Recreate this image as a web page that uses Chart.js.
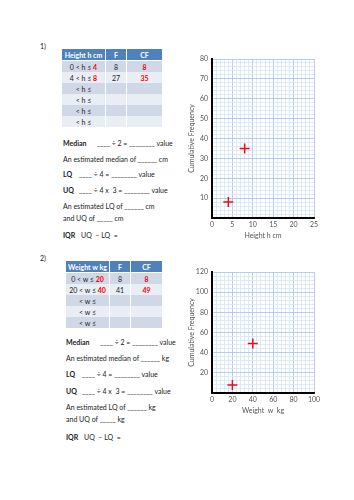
<!DOCTYPE html>
<html><head><meta charset="utf-8">
<script src="https://cdn.jsdelivr.net/npm/chart.js@4.4.0/dist/chart.umd.min.js"></script>
<style>
html,body{margin:0;padding:0;background:#fff;width:354px;height:500px;overflow:hidden;font-family:Lato,"Open Sans",sans-serif;color:#222;}
.t{position:absolute;font-size:7px;line-height:10px;white-space:nowrap;}
.b{font-weight:bold;}
table{position:absolute;border-collapse:collapse;font-size:7px;table-layout:fixed;}
td,th{padding:0;text-align:center;border-left:1px solid #fff;border-right:1px solid #fff;height:11px;line-height:10px;}
th{background:#4F81BD;color:#fff;font-weight:bold;border-bottom:1px solid #fff;}
tr.o td{background:#D0D8E8;}
tr.e td{background:#E9EDF4;}
.r{color:#f00;font-weight:bold;}
canvas{position:absolute;}
</style></head><body>
<div class="t" style="left:40px;top:41px;">1)</div>
<table id="t1" style="left:61px;top:49px;width:101px;">
<colgroup><col style="width:44px"><col style="width:21px"><col style="width:36px"></colgroup>
<tr><th>Height h cm</th><th>F</th><th>CF</th></tr>
</table>
<canvas id="c1" width="150" height="200" style="left:180px;top:50px;width:150px;height:200px;"></canvas>

<div class="t b" style="left:63px;top:138px;">Median</div>
<div class="t" style="left:97px;top:138px;">____ ÷ 2 = ________ value</div>
<div class="t" style="left:63px;top:154px;">An estimated median of ______ cm</div>
<div class="t b" style="left:63px;top:169px;">LQ</div>
<div class="t" style="left:79px;top:169px;">____ ÷ 4 = ________ value</div>
<div class="t b" style="left:63px;top:185px;">UQ</div>
<div class="t" style="left:79px;top:185px;">____ ÷ 4 x&nbsp; 3 = ________ value</div>
<div class="t" style="left:63px;top:201px;">An estimated LQ of ______ cm</div>
<div class="t" style="left:63px;top:213px;">and UQ of _____ cm</div>
<div class="t b" style="left:63px;top:230px;">IQR</div>
<div class="t" style="left:81px;top:230px;">UQ &nbsp;– LQ &nbsp;=</div>

<div class="t" style="left:40px;top:253px;">2)</div>
<table id="t2" style="left:65px;top:261px;width:97px;">
<colgroup><col style="width:44px"><col style="width:21px"><col style="width:32px"></colgroup>
<tr><th>Weight w kg</th><th>F</th><th>CF</th></tr>
</table>
<canvas id="c2" width="150" height="163" style="left:180px;top:262px;width:150px;height:163px;"></canvas>

<div class="t b" style="left:66px;top:337px;">Median</div>
<div class="t" style="left:100px;top:337px;">____ ÷ 2 = ________ value</div>
<div class="t" style="left:66px;top:353px;">An estimated median of ______ kg</div>
<div class="t b" style="left:66px;top:369px;">LQ</div>
<div class="t" style="left:82px;top:369px;">____ ÷ 4 = ________ value</div>
<div class="t b" style="left:66px;top:386px;">UQ</div>
<div class="t" style="left:82px;top:386px;">____ ÷ 4 x&nbsp; 3 = ________ value</div>
<div class="t" style="left:66px;top:402px;">An estimated LQ of ______ kg</div>
<div class="t" style="left:66px;top:414px;">and UQ of _____ kg</div>
<div class="t b" style="left:66px;top:432px;">IQR</div>
<div class="t" style="left:84px;top:432px;">UQ &nbsp;– LQ &nbsp;=</div>

<script>
// ---- Data ----
const heightLower = [0, 4];
const heightUpper = [4, 8];
const heightF = [8, 27];
const heightCF = [8, 35];
const heightEmptyRows = 4;

const weightLower = [0, 20];
const weightUpper = [20, 40];
const weightF = [8, 41];
const weightCF = [8, 49];
const weightEmptyRows = 3;

const heightXTicks = [0, 5, 10, 15, 20, 25];
const heightYTicks = [10, 20, 30, 40, 50, 60, 70, 80];
const weightXTicks = [0, 20, 40, 60, 80, 100];
const weightYTicks = [20, 40, 60, 80, 100, 120];

// ---- Tables ----
function fillTable(id, lo, up, f, cf, empty, v) {
  const t = document.getElementById(id);
  let k = 0;
  for (let i = 0; i < lo.length; i++, k++) {
    const tr = document.createElement('tr');
    tr.className = k % 2 ? 'e' : 'o';
    tr.innerHTML = '<td>' + lo[i] + ' &lt; ' + v + ' ≤ <span class="r">' + up[i] + '</span></td><td>' + f[i] + '</td><td><span class="r">' + cf[i] + '</span></td>';
    t.appendChild(tr);
  }
  for (let i = 0; i < empty; i++, k++) {
    const tr = document.createElement('tr');
    tr.className = k % 2 ? 'e' : 'o';
    tr.innerHTML = '<td>&lt; ' + v + ' ≤</td><td></td><td></td>';
    t.appendChild(tr);
  }
}
fillTable('t1', heightLower, heightUpper, heightF, heightCF, heightEmptyRows, 'h');
fillTable('t2', weightLower, weightUpper, weightF, weightCF, weightEmptyRows, 'w');

// ---- Charts ----
const FONT = 'Lato, "Open Sans", sans-serif';
const MAJ = '#A6C2EA', MIN = '#D6E4F6';
function makeChart(id, xs, ys, xTicks, yTicks, xStep, yStep, xTitle, padTop) {
  const xMajor = xTicks[1] - xTicks[0], yMajor = yTicks[1] - yTicks[0];
  new Chart(document.getElementById(id), {
    type: 'scatter',
    data: { datasets: [{ data: xs.map((x, i) => ({ x: x, y: ys[i] })),
      pointStyle: 'cross', radius: 5, borderWidth: 1.5, borderColor: '#E3101B', backgroundColor: '#E3101B' }] },
    options: {
      responsive: false, animation: false, events: [],
      layout: { padding: { top: padTop, right: 16, left: 0, bottom: 0 } },
      plugins: { legend: { display: false }, tooltip: { enabled: false } },
      scales: {
        x: {
          type: 'linear', min: xTicks[0], max: xTicks[xTicks.length - 1],
          afterFit: s => { s.height = 32; },
          border: { color: '#000', width: 2 },
          grid: { drawTicks: false, color: c => (c.tick.value % xMajor === 0 ? MAJ : MIN), lineWidth: 0.8 },
          ticks: { stepSize: xStep, autoSkip: false, maxRotation: 0, padding: 3, color: '#555',
            font: { family: FONT, size: 7 },
            callback: v => (xTicks.includes(v) ? String(v) : '') },
          title: { display: true, text: xTitle, color: '#555', font: { family: FONT, size: 7 }, padding: { top: 0, bottom: 10 } }
        },
        y: {
          type: 'linear', min: 0, max: yTicks[yTicks.length - 1],
          afterFit: s => { s.width = 32; },
          border: { color: '#000', width: 2 },
          grid: { drawTicks: false, color: c => (c.tick.value % yMajor === 0 ? MAJ : MIN), lineWidth: 0.8 },
          ticks: { stepSize: yStep, autoSkip: false, padding: 4, color: '#555',
            font: { family: FONT, size: 7 },
            callback: v => (yTicks.includes(v) ? String(v) : '') },
          title: { display: true, text: 'Cumulative Frequency', color: '#555', font: { family: FONT, size: 7 }, padding: { top: 8, bottom: 0 } }
        }
      }
    }
  });
}
makeChart('c1', heightUpper, heightCF, heightXTicks, heightYTicks, 1, 2, 'Height h cm', 9);
makeChart('c2', weightUpper, weightCF, weightXTicks, weightYTicks, 4, 4, 'Weight  w  kg', 10);
</script>
</body></html>
